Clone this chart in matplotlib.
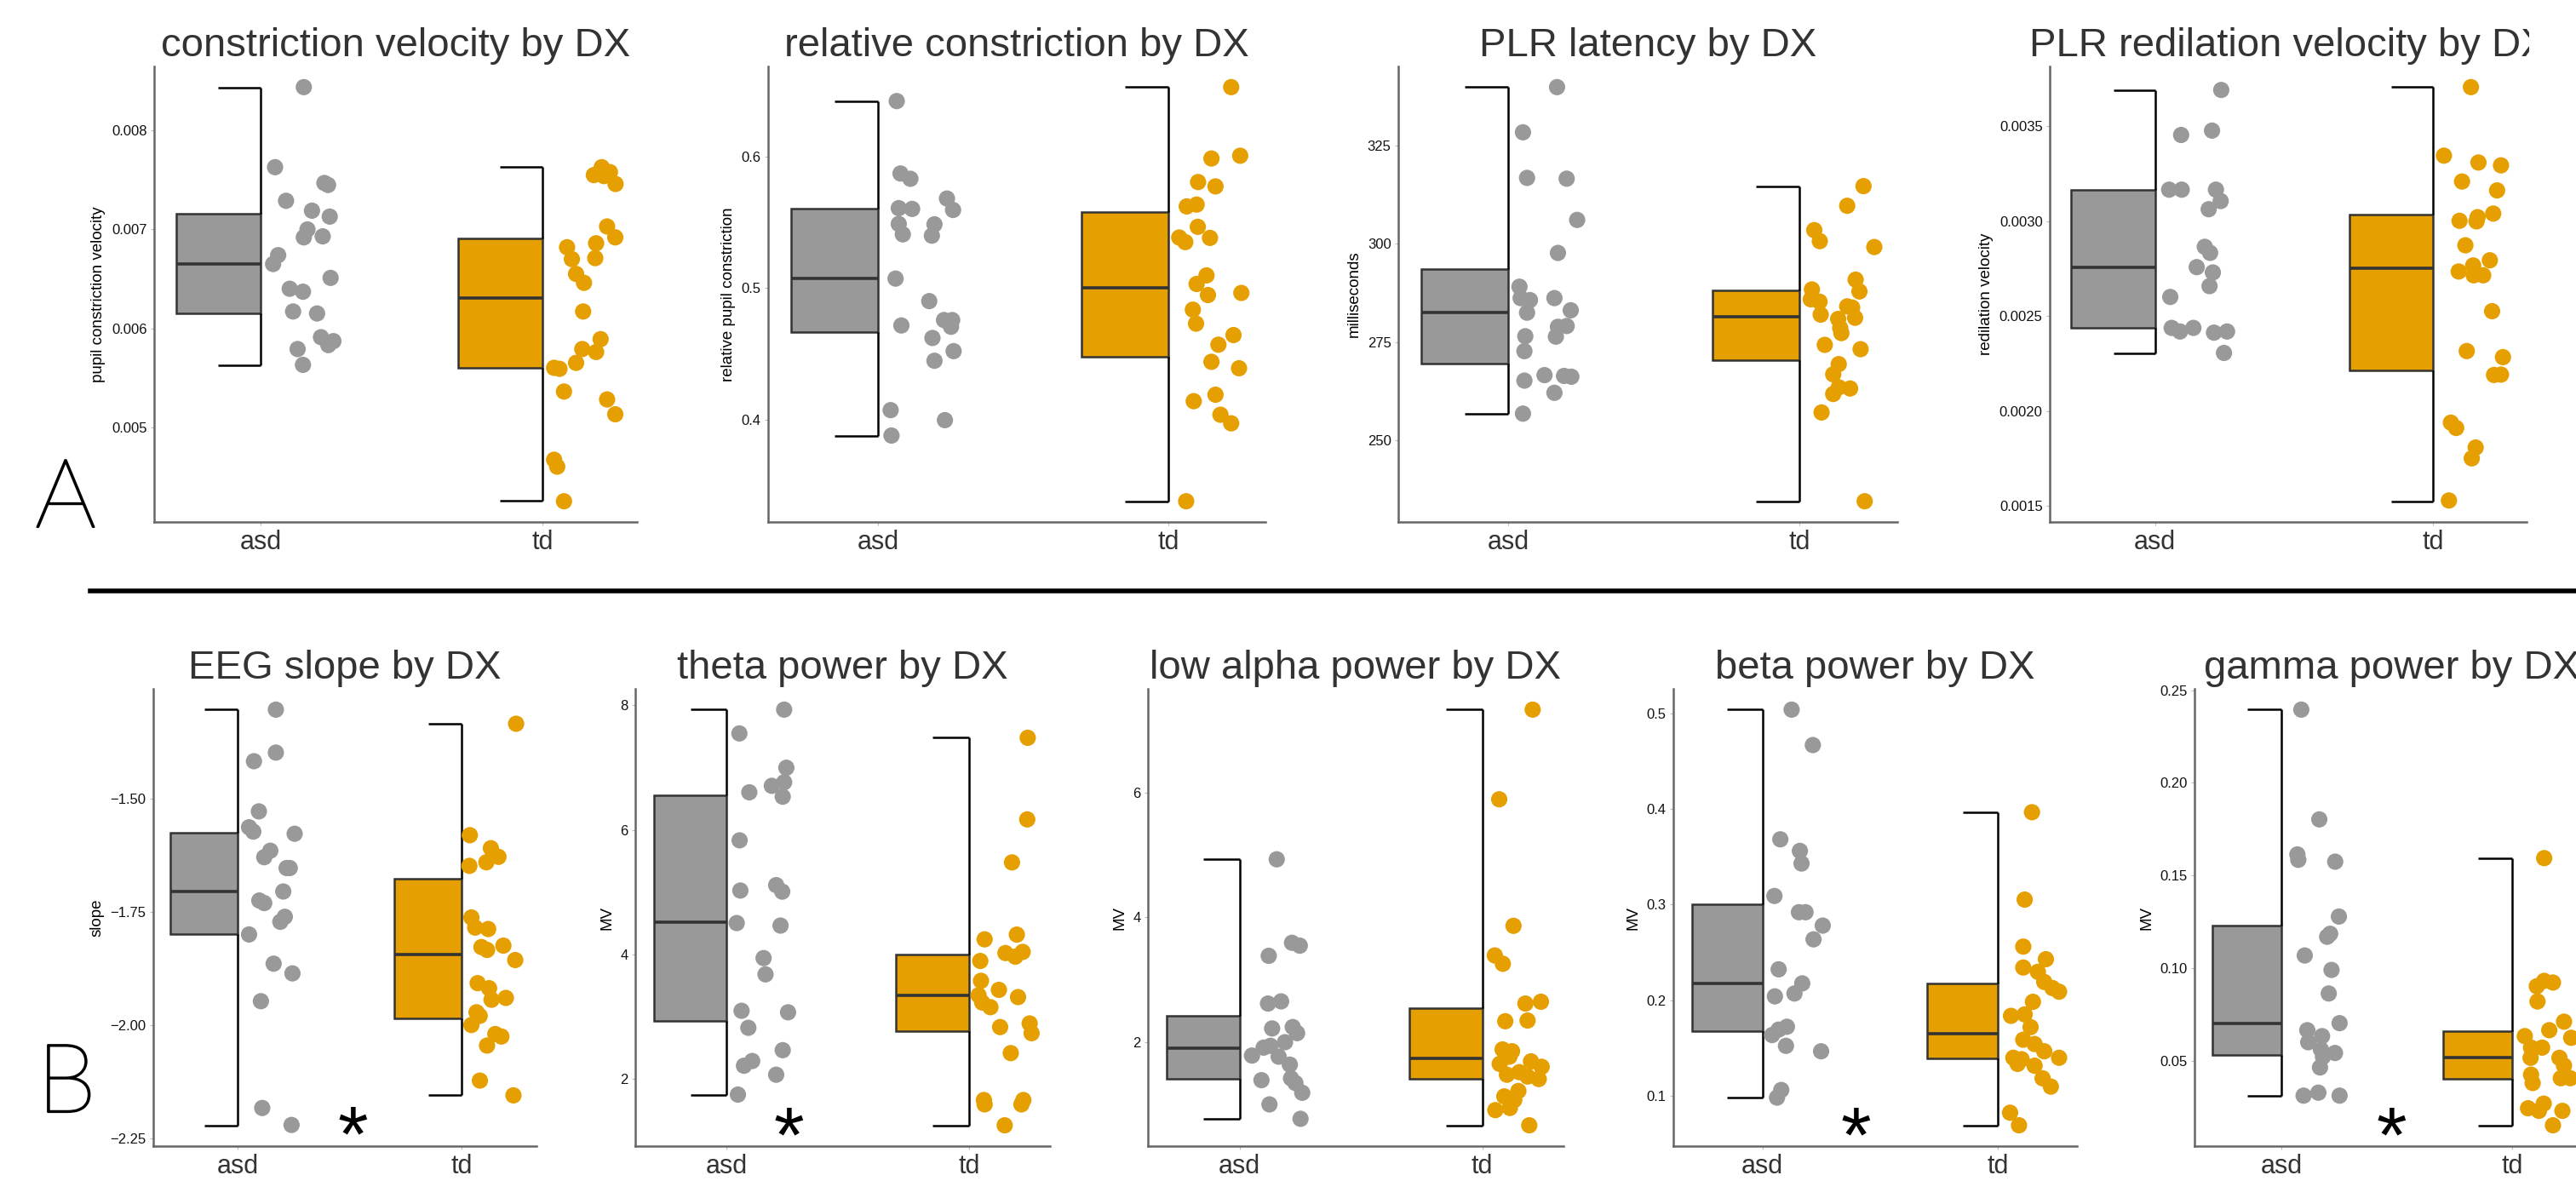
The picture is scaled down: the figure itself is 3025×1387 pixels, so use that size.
import matplotlib
matplotlib.use("Agg")
import matplotlib.pyplot as plt
import matplotlib.patheffects as pe
import numpy as np
from matplotlib.lines import Line2D
from matplotlib.transforms import Bbox, TransformedBbox

plt.rcParams["font.family"] = ["Liberation Sans", "DejaVu Sans"]

GROUPS = ["asd", "td"]
GRAY = "#999999"
ORANGE = "#E69F00"
EDGE = "#333333"

# box stats per group: [q1, median, q3, whisker low, whisker high]

# --- constriction velocity
CV_ASD = [0.00844, 0.00763, 0.00729, 0.00747, 0.00745, 0.00719, 0.00713, 0.00700, 0.00692,
          0.00693, 0.00674, 0.00665, 0.00651, 0.00640, 0.00637, 0.00617, 0.00615, 0.00591,
          0.00583, 0.00587, 0.00579, 0.00563]
CV_ASD_JIT = [.153, .051, .09, .226, .239, .182, .245, .166, .153, .22, .062, .044, .248, .103,
              .15, .115, .2, .214, .24, .258, .131, .15]
CV_TD = [0.00763, 0.00755, 0.00754, 0.00758, 0.00746, 0.00703, 0.00692, 0.00686, 0.00671,
         0.00682, 0.00670, 0.00655, 0.00646, 0.00617, 0.00589, 0.00579, 0.00576, 0.00565,
         0.00560, 0.00559, 0.00536, 0.00528, 0.00513, 0.00467, 0.00460, 0.00425]
CV_TD_JIT = [.21, .182, .218, .239, .259, .229, .258, .19, .187, .087, .104, .119, .147, .144,
             .206, .141, .19, .119, .041, .06, .076, .229, .258, .041, .052, .076]
CV_BOX = [[0.006155, 0.00665, 0.007159, 0.005625, 0.008437],
          [0.0056, 0.00631, 0.006906, 0.004253, 0.007632]]
CV_TICKS = [0.005, 0.006, 0.007, 0.008]
CV_LABELS = ["0.005", "0.006", "0.007", "0.008"]

# --- relative constriction
RC_ASD = [0.642, 0.587, 0.583, 0.5607, 0.5601, 0.5487, 0.5408, 0.568, 0.5593, 0.5484, 0.5398,
          0.5072, 0.4901, 0.4716, 0.4757, 0.4757, 0.4706, 0.4621, 0.4521, 0.4448, 0.4073,
          0.3997, 0.388]
RC_ASD_JIT = [.065, .078, .112, .072, .118, .072, .086, .238, .259, .195, .186, .061, .177, .081,
              .228, .256, .252, .188, .261, .195, .044, .231, .047]
RC_TD = [0.6526, 0.5984, 0.6005, 0.5805, 0.5772, 0.562, 0.5634, 0.5465, 0.5384, 0.5349, 0.5381,
         0.5096, 0.5031, 0.4947, 0.4963, 0.4836, 0.473, 0.4643, 0.457, 0.444, 0.4391, 0.4141,
         0.419, 0.4038, 0.3973, 0.3381]
RC_TD_JIT = [.217, .149, .248, .103, .163, .064, .098, .102, .038, .059, .144, .132, .098, .137,
             .252, .085, .096, .225, .173, .149, .244, .088, .163, .18, .217, .062]
RC_BOX = [[0.4665, 0.5072, 0.5601, 0.388, 0.6418],
          [0.4475, 0.5001, 0.5579, 0.3381, 0.6526]]
RC_TICKS = [0.4, 0.5, 0.6]
RC_LABELS = ["0.4", "0.5", "0.6"]

# --- PLR latency
LAT_ASD = [339.9, 328.4, 316.8, 316.6, 306.1, 297.7, 289.1, 286.2, 285.7, 286.2, 282.5, 283.1,
           278.9, 279.1, 276.4, 276.5, 272.7, 266.6, 265.2, 266.4, 266.2, 262.1, 256.8]
LAT_ASD_JIT = [.167, .05, .064, .2, .236, .17, .038, .042, .074, .158, .064, .214, .17, .2, .163,
               .058, .055, .124, .055, .191, .216, .158, .05]
LAT_TD = [314.7, 309.7, 303.5, 300.7, 299.2, 290.9, 287.9, 288.4, 285.9, 285.3, 284.1, 283.8,
          282.0, 280.9, 281.2, 278.6, 277.3, 274.3, 273.2, 269.4, 266.8, 261.8, 263.5, 263.2,
          257.1, 234.5]
LAT_TD_JIT = [.219, .163, .05, .069, .256, .192, .205, .042, .038, .068, .163, .18, .072, .132,
              .19, .139, .143, .086, .209, .134, .115, .115, .134, .173, .075, .223]
LAT_BOX = [[269.5, 282.5, 293.6, 256.8, 339.9],
           [270.5, 281.5, 288.2, 234.5, 314.6]]
LAT_TICKS = [250, 275, 300, 325]
LAT_LABELS = ["250", "275", "300", "325"]

# --- PLR redilation velocity
RV_ASD = [0.00369, 0.003453, 0.003476, 0.003165, 0.003165, 0.003165, 0.003105, 0.003062,
          0.002864, 0.002832, 0.002757, 0.002729, 0.002657, 0.0026, 0.002437, 0.002418,
          0.002437, 0.002412, 0.002418, 0.002305]
RV_ASD_JIT = [.238, .094, .205, .051, .096, .219, .236, .193, .179, .198, .15, .208, .196, .055,
              .06, .09, .138, .212, .259, .248]
RV_TD = [0.003705, 0.003344, 0.003308, 0.003293, 0.003208, 0.003161, 0.003039, 0.003001,
         0.00302, 0.002998, 0.002872, 0.002793, 0.002734, 0.002766, 0.002714, 0.002714,
         0.002525, 0.002315, 0.002283, 0.002189, 0.002191, 0.001938, 0.00191, 0.001807,
         0.00175, 0.001528]
RV_TD_JIT = [.135, .038, .162, .243, .103, .229, .215, .094, .159, .155, .115, .203, .091, .143,
             .145, .179, .211, .12, .25, .218, .243, .063, .082, .152, .138, .056]
RV_BOX = [[0.002437, 0.002757, 0.003165, 0.002305, 0.00369],
          [0.002215, 0.002751, 0.003033, 0.001524, 0.003705]]
RV_TICKS = [0.0015, 0.0020, 0.0025, 0.0030, 0.0035]
RV_LABELS = ["0.0015", "0.0020", "0.0025", "0.0030", "0.0035"]

# --- EEG slope
SL_ASD = [-1.3043, -1.418, -1.399, -1.5286, -1.5636, -1.5732, -1.5779, -1.6153, -1.6296,
          -1.6535, -1.6535, -1.7052, -1.7251, -1.7307, -1.7609, -1.772, -1.7999, -1.8643,
          -1.8857, -1.947, -2.1824, -2.2198]
SL_ASD_JIT = [.17, .072, .17, .094, .05, .069, .254, .145, .118, .218, .232, .203, .096, .118,
              .21, .19, .05, .16, .244, .103, .109, .24]
SL_TD = [-1.3354, -1.5811, -1.6098, -1.6288, -1.6487, -1.6408, -1.7625, -1.7847, -1.7879,
         -1.8277, -1.834, -1.8245, -1.8563, -1.9072, -1.9184, -1.9438, -1.9398, -1.9714,
         -1.9794, -1.9995, -2.0194, -2.0249, -2.0448, -2.122, -2.1546]
SL_TD_JIT = [.244, .037, .131, .165, .035, .111, .044, .061, .119, .089, .114, .187, .24, .072,
             .123, .134, .198, .067, .081, .044, .151, .178, .114, .082, .232]
SL_BOX = [[-1.7999, -1.7052, -1.5756, -2.2206, -1.3043],
          [-1.9852, -1.8444, -1.6774, -2.1546, -1.3354]]
SL_TICKS = [-2.25, -2.00, -1.75, -1.50]
SL_LABELS = ["\u22122.25", "\u22122.00", "\u22121.75", "\u22121.50"]
SL_STAR = (0.513, -2.20)

# --- theta power
TH_ASD = [7.93, 7.548, 6.997, 6.765, 6.707, 6.533, 6.603, 5.832, 5.026, 5.113, 5.009, 4.504,
          4.464, 3.942, 3.681, 3.096, 3.072, 2.823, 2.214, 2.29, 2.464, 2.07, 1.751]
TH_ASD_JIT = [.237, .052, .246, .237, .186, .231, .093, .053, .056, .204, .229, .041, .222,
              .152, .16, .061, .253, .089, .071, .105, .231, .204, .046]
TH_TD = [7.478, 6.168, 5.478, 4.243, 4.319, 4.023, 3.965, 4.041, 3.896, 3.577, 3.345, 3.229,
         3.154, 3.432, 3.316, 2.835, 2.893, 2.736, 2.417, 1.664, 1.594, 1.664, 1.594, 1.258]
TH_TD_JIT = [.243, .241, .178, .065, .198, .151, .192, .222, .047, .05, .04, .055, .089, .124,
             .203, .129, .251, .259, .173, .062, .065, .225, .217, .148]
TH_BOX = [[2.939, 4.516, 6.562, 1.751, 7.93],
          [2.765, 3.345, 4.0, 1.258, 7.478]]
TH_TICKS = [2, 4, 6, 8]
TH_LABELS = ["2", "4", "6", "8"]
TH_STAR = (0.256, 1.40)

# --- low alpha power
LA_ASD = [4.929, 3.592, 3.546, 3.383, 2.619, 2.654, 2.22, 2.243, 2.145, 2.0, 1.913, 1.942,
          1.786, 1.768, 1.641, 1.392, 1.421, 1.346, 1.19, 1.004, 0.773]
LA_ASD_JIT = [.153, .216, .248, .12, .117, .171, .134, .219, .237, .187, .099, .127, .051, .161,
              .207, .09, .212, .23, .258, .123, .251]
LA_TD = [7.326, 5.89, 3.864, 3.389, 3.256, 2.619, 2.648, 2.336, 2.347, 1.884, 1.855, 1.768,
         1.693, 1.606, 1.653, 1.479, 1.52, 1.45, 1.41, 1.219, 1.132, 1.074, 0.912, 0.947, 0.669]
LA_TD_JIT = [.208, .07, .129, .052, .085, .178, .242, .095, .187, .084, .123, .112, .201, .245,
             .072, .102, .153, .187, .233, .149, .091, .132, .054, .114, .194]
LA_BOX = [[1.41, 1.901, 2.422, 0.773, 4.929],
          [1.41, 1.74, 2.55, 0.669, 7.326]]
LA_TICKS = [2, 4, 6]
LA_LABELS = ["2", "4", "6"]

# --- beta power
BE_ASD = [0.5042, 0.4671, 0.3684, 0.3563, 0.3431, 0.3091, 0.2921, 0.2921, 0.2781, 0.2637,
          0.2323, 0.2176, 0.207, 0.204, 0.1722, 0.1635, 0.1692, 0.1522, 0.1465, 0.106, 0.098]
BE_ASD_JIT = [.124, .214, .076, .159, .166, .051, .155, .183, .256, .217, .069, .169, .136, .053,
              .104, .041, .069, .1, .249, .08, .062]
BE_TD = [0.3968, 0.3053, 0.2561, 0.2429, 0.2342, 0.2297, 0.2191, 0.2127, 0.2089, 0.1983,
         0.1836, 0.1851, 0.1718, 0.1586, 0.1541, 0.1465, 0.1397, 0.1382, 0.1333, 0.1314,
         0.1397, 0.1182, 0.1095, 0.0822, 0.069]
BE_TD_JIT = [.144, .113, .107, .203, .107, .169, .196, .231, .259, .148, .055, .113, .138, .107,
             .155, .196, .065, .1, .083, .155, .259, .189, .224, .051, .089]
BE_BOX = [[0.1673, 0.2176, 0.3008, 0.098, 0.5042],
          [0.1389, 0.1646, 0.2172, 0.069, 0.3968]]
BE_TICKS = [0.1, 0.2, 0.3, 0.4, 0.5]
BE_LABELS = ["0.1", "0.2", "0.3", "0.4", "0.5"]
BE_STAR = (0.396, 0.078)

# --- gamma power
GA_ASD = [0.2395, 0.1803, 0.1614, 0.1585, 0.1575, 0.1279, 0.1186, 0.117, 0.1069, 0.0991,
          0.0864, 0.0704, 0.0666, 0.0601, 0.0634, 0.0562, 0.0523, 0.0543, 0.0465, 0.0313,
          0.0329, 0.0313]
GA_ASD_JIT = [.085, .163, .068, .072, .232, .248, .21, .197, .1, .216, .204, .251, .111, .115,
              .175, .17, .179, .231, .166, .095, .159, .251]
GA_TD = [0.1594, 0.0903, 0.0932, 0.0923, 0.0821, 0.0712, 0.0666, 0.0634, 0.0625, 0.0572,
         0.0572, 0.0517, 0.0517, 0.0475, 0.0426, 0.0381, 0.0407, 0.0407, 0.0245, 0.0231,
         0.027, 0.0231, 0.0153]
GA_TD_JIT = [.138, .106, .138, .176, .109, .224, .16, .054, .255, .081, .129, .079, .204, .224,
             .081, .088, .21, .251, .068, .115, .136, .217, .176]
GA_BOX = [[0.0533, 0.0704, 0.123, 0.0313, 0.2395],
          [0.0403, 0.0518, 0.066, 0.0153, 0.1594]]
GA_TICKS = [0.05, 0.10, 0.15, 0.20, 0.25]
GA_LABELS = ["0.05", "0.10", "0.15", "0.20", "0.25"]
GA_STAR = (0.476, 0.020)

W, H = 3025, 1387
TOP_ROW = (78, 613)
BOTTOM_ROW = (809, 1346)

PANELS = [
    dict(title="constriction velocity by DX", ylabel="pupil constriction velocity",
         data=[(CV_ASD, CV_ASD_JIT), (CV_TD, CV_TD_JIT)], box=CV_BOX,
         ticks=CV_TICKS, labels=CV_LABELS, star=None, xs=(181, 748), row=TOP_ROW),
    dict(title="relative constriction by DX", ylabel="relative pupil constriction",
         data=[(RC_ASD, RC_ASD_JIT), (RC_TD, RC_TD_JIT)], box=RC_BOX,
         ticks=RC_TICKS, labels=RC_LABELS, star=None, xs=(902, 1486), row=TOP_ROW),
    dict(title="PLR latency by DX", ylabel="milliseconds",
         data=[(LAT_ASD, LAT_ASD_JIT), (LAT_TD, LAT_TD_JIT)], box=LAT_BOX,
         ticks=LAT_TICKS, labels=LAT_LABELS, star=None, xs=(1642, 2228), row=TOP_ROW),
    dict(title="PLR redilation velocity by DX", ylabel="redilation velocity",
         data=[(RV_ASD, RV_ASD_JIT), (RV_TD, RV_TD_JIT)], box=RV_BOX,
         ticks=RV_TICKS, labels=RV_LABELS, star=None, xs=(2407, 2967), row=TOP_ROW,
         clip=2970),
    dict(title="EEG slope by DX", ylabel="slope",
         data=[(SL_ASD, SL_ASD_JIT), (SL_TD, SL_TD_JIT)], box=SL_BOX,
         ticks=SL_TICKS, labels=SL_LABELS, star=SL_STAR, xs=(180, 630), row=BOTTOM_ROW),
    dict(title="theta power by DX", ylabel="MV",
         data=[(TH_ASD, TH_ASD_JIT), (TH_TD, TH_TD_JIT)], box=TH_BOX,
         ticks=TH_TICKS, labels=TH_LABELS, star=TH_STAR, xs=(746, 1233), row=BOTTOM_ROW),
    dict(title="low alpha power by DX", ylabel="MV",
         data=[(LA_ASD, LA_ASD_JIT), (LA_TD, LA_TD_JIT)], box=LA_BOX,
         ticks=LA_TICKS, labels=LA_LABELS, star=None, xs=(1348, 1836), row=BOTTOM_ROW),
    dict(title="beta power by DX", ylabel="MV",
         data=[(BE_ASD, BE_ASD_JIT), (BE_TD, BE_TD_JIT)], box=BE_BOX,
         ticks=BE_TICKS, labels=BE_LABELS, star=BE_STAR, xs=(1965, 2439), row=BOTTOM_ROW),
    dict(title="gamma power by DX", ylabel="MV",
         data=[(GA_ASD, GA_ASD_JIT), (GA_TD, GA_TD_JIT)], box=GA_BOX,
         ticks=GA_TICKS, labels=GA_LABELS, star=GA_STAR, xs=(2577, 3041), row=BOTTOM_ROW),
]

COLORS = [GRAY, ORANGE]
BOX_W = 0.3
CAP_W = 0.15
STAR_FS = 66


def draw_panel(fig, p):
    x0, x1 = p["xs"]
    y0, y1 = p["row"]
    ax = fig.add_axes([x0 / W, 1 - y1 / H, (x1 - x0) / W, (y1 - y0) / H])

    all_vals = []
    for i, ((vals, jit), stats) in enumerate(zip(p["data"], p["box"])):
        q1, med, q3, lo, hi = stats
        color = COLORS[i]
        ax.bar(i - BOX_W / 2, q3 - q1, bottom=q1, width=BOX_W, color=color,
               edgecolor=EDGE, linewidth=1.8, zorder=2)
        ax.hlines(med, i - BOX_W, i, color=EDGE, linewidth=2.6, zorder=3)
        ax.vlines([i, i], [lo, q3], [q1, hi], color="black", linewidth=1.8, zorder=2)
        ax.hlines([lo, hi], i - CAP_W, i, color="black", linewidth=1.8, zorder=2)
        ax.scatter(i + np.asarray(jit), vals, s=190, color=color, edgecolors="none",
                   zorder=4)
        all_vals += list(vals) + list(stats)

    lo, hi = min(all_vals), max(all_vals)
    pad = 0.05 * (hi - lo)
    ax.set_ylim(lo - pad, hi + pad)
    ax.set_xlim(-0.378, 1.335)

    ax.set_xticks([0, 1], GROUPS)
    ax.set_yticks(p["ticks"], p["labels"])
    ax.tick_params(axis="x", length=3, width=0.8, color="#bbbbbb", labelsize=22,
                   labelcolor="#333333", pad=3.5)
    ax.tick_params(axis="y", length=3, width=0.8, color="#bbbbbb", labelsize=12,
                   labelcolor="#111111", pad=3)
    for side in ["top", "right"]:
        ax.spines[side].set_visible(False)
    for side in ["left", "bottom"]:
        ax.spines[side].set_color("#666666")
        ax.spines[side].set_linewidth(1.8)

    ax.set_ylabel(p["ylabel"], fontsize=13.5, labelpad=5, color="black")
    title = ax.set_title(p["title"], fontsize=34, color="#333333", pad=8.6)
    if p.get("clip"):
        title.set_clip_box(TransformedBbox(Bbox([[0, 0], [p["clip"] / W, 1]]),
                                           fig.transFigure))
        title.set_clip_on(True)

    if p["star"] is not None:
        sx, sy = p["star"]
        ax.annotate("*", xy=(sx, sy), xytext=(0, -0.58 * STAR_FS),
                    textcoords="offset points", ha="center", va="baseline",
                    fontsize=STAR_FS, color="black", zorder=5)
    return ax


def main() -> None:
    fig = plt.figure(figsize=(W / 100, H / 100), dpi=100)
    fig.patch.set_facecolor("white")

    for p in PANELS:
        draw_panel(fig, p)

    letter_font = ["Lato", "Roboto", "DejaVu Sans"]
    thicken = [pe.withStroke(linewidth=1.6, foreground="black")]
    fig.text(77 / W, 1 - 619 / H, "A", fontsize=81, family=letter_font,
             fontweight="light", ha="center", va="baseline", path_effects=thicken)
    fig.text(78 / W, 1 - 1306 / H, "B", fontsize=81, family=letter_font,
             fontweight="light", ha="center", va="baseline", path_effects=thicken)
    fig.add_artist(Line2D([106 / W, 1.0], [1 - 694 / H, 1 - 694 / H],
                          transform=fig.transFigure, color="black", linewidth=4))

    fig.savefig("out.png", dpi=100)
    plt.close(fig)


if __name__ == "__main__":
    main()
